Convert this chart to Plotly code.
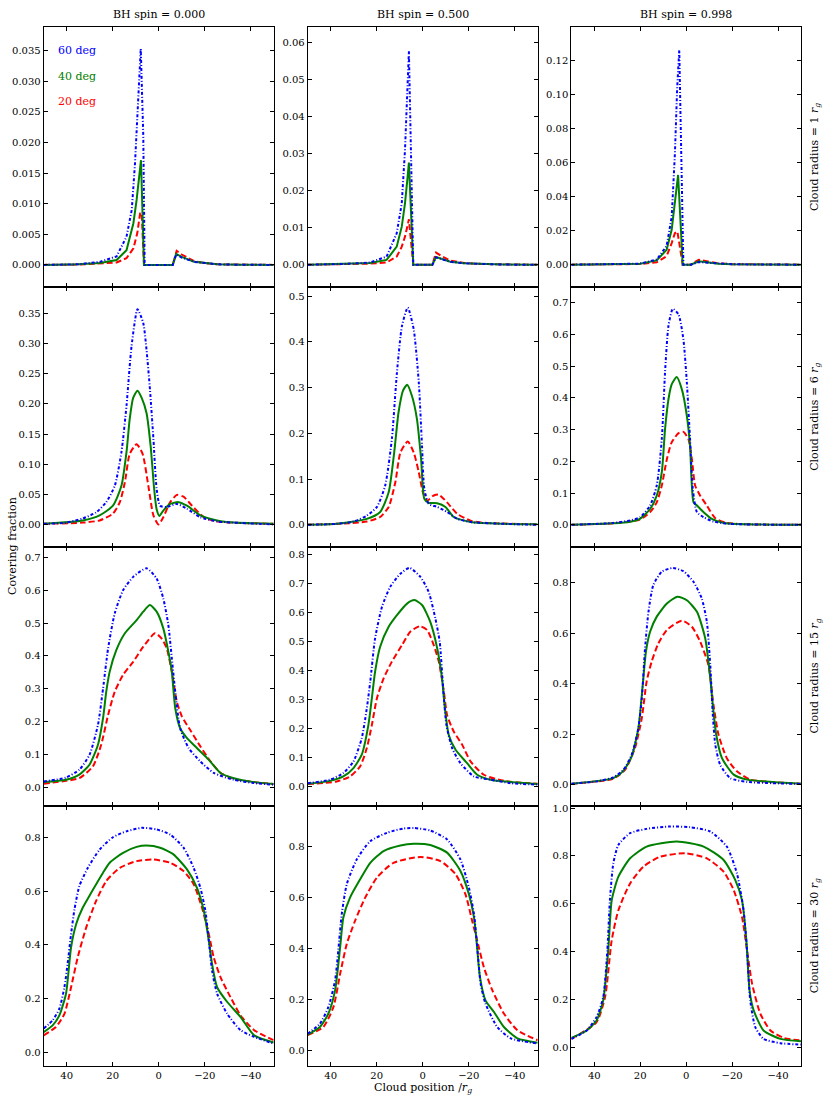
import plotly.graph_objects as go

# ---------------- labels ----------------
spin_labels = ["BH spin = 0.000", "BH spin = 0.500", "BH spin = 0.998"]
radius_labels = ["1", "6", "15", "30"]
angle_labels = ["60 deg", "40 deg", "20 deg"]
x_ticks = [40, 20, 0, -20, -40]
x_title = "Cloud position /<i>r</i><sub><i>g</i></sub>"
y_title = "Covering fraction"

# ---------------- data: row = cloud radius, col = BH spin ----------------
# Row 1 (radius 1)
x_r1c1_60 = [50, 35, 25.6, 18.3, 14.0, 11.7, 10.3, 8.8, 7.8, 6.7, 6.1, 0, -6.1, -7.6, -10, -15.4, -20, -25.5, -35, -50]
y_r1c1_60 = [0, 0.0001, 0.0005, 0.0014, 0.0046, 0.009, 0.0166, 0.0285, 0.0353, 0.021, 0, 0, 0, 0.0017, 0.0012, 0.0005, 0.0003, 0.0001, 0.00003, 0]
x_r1c1_40 = [50, 35, 25.6, 18.3, 14.0, 11.0, 9.6, 8.4, 7.7, 6.4, 0, -6.1, -7.6, -10, -15.4, -20, -25.5, -35, -50]
y_r1c1_40 = [0, 0.0001, 0.0003, 0.0008, 0.0024, 0.0068, 0.0106, 0.0155, 0.0171, 0, 0, 0, 0.0018, 0.0013, 0.0005, 0.0003, 0.0001, 0.00003, 0]
x_r1c1_20 = [50, 35, 18.3, 14.0, 11.0, 9.3, 8.1, 7.4, 6.4, 0, -6.1, -7.8, -10, -15.4, -20, -25.5, -35, -50]
y_r1c1_20 = [0, 0.00005, 0.0004, 0.0011, 0.0027, 0.0052, 0.0084, 0.0085, 0, 0, 0, 0.0023, 0.0017, 0.0006, 0.0003, 0.0001, 0.00003, 0]

x_r1c2_60 = [50, 35, 22.9, 15.7, 11.3, 9.1, 7.7, 6.7, 6.0, 4.1, 0, -4.2, -5.8, -8, -12, -18, -25, -35, -50]
y_r1c2_60 = [0, 0.0002, 0.0006, 0.0022, 0.0085, 0.0166, 0.031, 0.047, 0.0577, 0, 0, 0, 0.002, 0.0015, 0.0008, 0.0004, 0.0002, 0.00005, 0]
x_r1c2_40 = [50, 35, 22.9, 15.7, 11.3, 9.1, 7.7, 6.7, 6.0, 4.1, 0, -4.2, -5.8, -8, -12, -18, -25, -35, -50]
y_r1c2_40 = [0, 0.0002, 0.0005, 0.0013, 0.0049, 0.0103, 0.0166, 0.0229, 0.0276, 0, 0, 0, 0.0021, 0.0016, 0.0008, 0.0004, 0.0002, 0.00005, 0]
x_r1c2_20 = [50, 35, 22.9, 15.7, 11.3, 9.1, 7.7, 6.7, 6.0, 4.1, 0, -4.2, -5.8, -8, -12, -18, -25, -35, -50]
y_r1c2_20 = [0, 0.0001, 0.0003, 0.0006, 0.0022, 0.0049, 0.0076, 0.0103, 0.0123, 0, 0, 0, 0.0033, 0.0024, 0.0011, 0.0005, 0.0002, 0.00005, 0]

x_r1c3_60 = [50, 30, 20.1, 12.8, 8.5, 6.3, 4.9, 3.9, 3.0, 1.2, -2.0, -5.5, -9, -14, -20, -30, -50]
y_r1c3_60 = [0, 0.0002, 0.0006, 0.003, 0.011, 0.028, 0.065, 0.104, 0.126, 0, 0, 0.0015, 0.0012, 0.0006, 0.0003, 0.0001, 0]
x_r1c3_40 = [50, 30, 20.1, 12.8, 8.5, 6.3, 4.9, 3.5, 1.5, -2.0, -5.5, -9, -14, -20, -30, -50]
y_r1c3_40 = [0, 0.0002, 0.0005, 0.0025, 0.0088, 0.0205, 0.036, 0.0527, 0, 0, 0.002, 0.0014, 0.0006, 0.0003, 0.0001, 0]
x_r1c3_20 = [50, 30, 20.1, 12.8, 8.5, 6.3, 4.9, 3.8, 1.5, -2.0, -5.5, -9, -14, -20, -30, -50]
y_r1c3_20 = [0, 0.0001, 0.0004, 0.0014, 0.005, 0.0127, 0.0185, 0.0195, 0, 0, 0.0029, 0.002, 0.0008, 0.0003, 0.0001, 0]

# Row 2 (radius 6)
x_r2c1_60 = [50, 40.3, 33.0, 27.2, 22.8, 19.1, 16.2, 14.0, 11.8, 9.2, 6.7, 5.3, 3.8, 2.3, 0.9, -0.6, -3.5, -7.9, -12.3, -18.1, -25.4, -32.7, -50]
y_r2c1_60 = [0.001, 0.003, 0.010, 0.020, 0.037, 0.064, 0.12, 0.197, 0.296, 0.357, 0.334, 0.29, 0.224, 0.142, 0.059, 0.031, 0.029, 0.034, 0.026, 0.012, 0.005, 0.003, 0.0]
x_r2c1_40 = [50, 33.0, 25.7, 19.9, 16.2, 14.0, 12.6, 11.1, 9.2, 7.4, 5.3, 3.5, 2.0, 0.9, -0.3, -2.0, -5.0, -8.6, -12.3, -18.1, -25.4, -32.7, -50]
y_r2c1_40 = [0.001, 0.0066, 0.015, 0.031, 0.064, 0.12, 0.175, 0.21, 0.222, 0.21, 0.185, 0.13, 0.06, 0.025, 0.014, 0.023, 0.034, 0.037, 0.031, 0.015, 0.0066, 0.003, 0.001]
x_r2c1_20 = [50, 33.0, 25.7, 19.9, 16.9, 14.7, 12.6, 9.6, 7.0, 4.5, 2.3, 0.1, -2.0, -5.0, -7.9, -10.8, -14.5, -19.6, -25.4, -50]
y_r2c1_20 = [0.001, 0.003, 0.0066, 0.018, 0.037, 0.07, 0.117, 0.133, 0.117, 0.064, 0.015, 0.0, 0.012, 0.037, 0.049, 0.046, 0.031, 0.012, 0.005, 0.001]

x_r2c2_60 = [50, 37.4, 30.1, 24.3, 19.9, 16.3, 13.4, 11.2, 9.0, 6.5, 3.9, 1.7, 0.3, -0.7, -2.6, -6.3, -10.6, -15.0, -20.8, -35.3, -50]
y_r2c2_60 = [0.0, 0.002, 0.007, 0.020, 0.039, 0.086, 0.188, 0.333, 0.435, 0.475, 0.427, 0.311, 0.173, 0.079, 0.046, 0.039, 0.028, 0.013, 0.006, 0.002, 0.0]
x_r2c2_40 = [50, 37.4, 24.3, 18.5, 14.8, 12.4, 10.5, 8.6, 6.8, 4.7, 2.5, 0.7, -0.7, -2.6, -6.3, -9.9, -13.5, -20.8, -35, -50]
y_r2c2_40 = [0.0, 0.002, 0.013, 0.028, 0.071, 0.158, 0.246, 0.293, 0.306, 0.282, 0.231, 0.144, 0.057, 0.048, 0.047, 0.039, 0.017, 0.006, 0.002, 0.001]
x_r2c2_20 = [50, 37.4, 24.3, 18.5, 14.8, 11.9, 9.7, 6.5, 3.9, 1.7, -0.1, -1.9, -4.8, -7.0, -10.6, -15.0, -20.8, -28.1, -50]
y_r2c2_20 = [0.0, 0.002, 0.007, 0.017, 0.039, 0.093, 0.158, 0.182, 0.158, 0.115, 0.071, 0.053, 0.064, 0.066, 0.049, 0.024, 0.009, 0.004, 0.001]

x_r2c3_60 = [50, 31.7, 24.4, 20.1, 15.7, 12.8, 10.6, 9.2, 7.7, 5.8, 3.3, 1.2, -0.3, -1.7, -2.9, -4.7, -7.6, -11.9, -19.2, -50]
y_r2c3_60 = [0.0, 0.006, 0.014, 0.024, 0.061, 0.124, 0.27, 0.48, 0.627, 0.681, 0.663, 0.585, 0.449, 0.27, 0.113, 0.04, 0.024, 0.0105, 0.003, 0.0]
x_r2c3_40 = [50, 31.7, 24.4, 20.1, 15.7, 12.8, 10.6, 9.2, 7.7, 6.3, 4.1, 1.9, -0.3, -1.7, -3.2, -4.7, -7.6, -11.2, -16.3, -50]
y_r2c3_40 = [0.0, 0.005, 0.010, 0.019, 0.050, 0.092, 0.166, 0.30, 0.396, 0.443, 0.466, 0.428, 0.344, 0.249, 0.071, 0.061, 0.04, 0.019, 0.006, 0.0]
x_r2c3_20 = [50, 31.7, 20.1, 15.7, 12.8, 10.6, 8.4, 6.3, 3.3, 1.2, -1.0, -2.5, -3.9, -6.1, -9.0, -12.7, -17.7, -50]
y_r2c3_20 = [0.0, 0.005, 0.017, 0.04, 0.071, 0.124, 0.207, 0.26, 0.289, 0.293, 0.27, 0.207, 0.124, 0.092, 0.061, 0.021, 0.006, 0.0]

# Row 3 (radius 15)
x_r3c1_60 = [50, 40.3, 34.5, 30.1, 26.4, 24.2, 22.0, 19.1, 15.5, 11.1, 5.3, 0.9, -2.0, -4.2, -5.7, -7.2, -9.3, -13.0, -18.1, -23.9, -32.7, -41.5, -50]
y_r3c1_60 = [0.017, 0.029, 0.053, 0.098, 0.19, 0.30, 0.423, 0.53, 0.60, 0.641, 0.667, 0.636, 0.575, 0.494, 0.393, 0.291, 0.18, 0.119, 0.078, 0.043, 0.022, 0.012, 0.007]
x_r3c1_40 = [50, 40.3, 34.5, 30.1, 26.4, 24.2, 22.8, 21.3, 18.4, 14.7, 9.6, 6.7, 3.8, 0.9, -2.0, -4.2, -5.7, -7.2, -9.3, -12.3, -16.6, -21.8, -26.9, -32.7, -41.5, -50]
y_r3c1_40 = [0.015, 0.022, 0.038, 0.068, 0.129, 0.21, 0.291, 0.352, 0.418, 0.469, 0.509, 0.535, 0.555, 0.535, 0.484, 0.413, 0.352, 0.24, 0.18, 0.149, 0.119, 0.083, 0.043, 0.027, 0.015, 0.009]
x_r3c1_20 = [50, 40.3, 34.5, 28.6, 25.0, 22.0, 19.1, 15.5, 11.1, 6.7, 1.6, -1.3, -3.5, -5.7, -7.9, -10.1, -13.7, -18.1, -22.5, -26.9, -32.7, -41.5, -50]
y_r3c1_20 = [0.01, 0.019, 0.027, 0.063, 0.129, 0.22, 0.291, 0.342, 0.382, 0.428, 0.469, 0.453, 0.423, 0.352, 0.26, 0.215, 0.174, 0.124, 0.078, 0.043, 0.025, 0.015, 0.009]

x_r3c2_60 = [50, 40.3, 34.5, 30.1, 26.5, 24.3, 22.8, 20.7, 17.7, 14.1, 9.7, 5.7, 1.0, -2.6, -5.5, -7.4, -8.9, -10.3, -12.8, -16.4, -22.3, -29.5, -38.3, -50]
y_r3c2_60 = [0.011, 0.023, 0.046, 0.086, 0.166, 0.269, 0.361, 0.51, 0.619, 0.688, 0.733, 0.753, 0.722, 0.670, 0.579, 0.498, 0.338, 0.212, 0.132, 0.08, 0.034, 0.023, 0.011, 0.006]
x_r3c2_40 = [50, 40.3, 34.5, 30.1, 26.5, 23.6, 22.1, 20.7, 18.5, 14.8, 11.2, 6.8, 3.6, 0.3, -3.3, -6.3, -8.4, -9.5, -11.3, -14.3, -19.3, -23.7, -29.5, -38.3, -50]
y_r3c2_40 = [0.009, 0.019, 0.034, 0.063, 0.109, 0.212, 0.304, 0.395, 0.481, 0.55, 0.59, 0.63, 0.642, 0.625, 0.567, 0.476, 0.372, 0.281, 0.178, 0.126, 0.08, 0.04, 0.023, 0.015, 0.008]
x_r3c2_20 = [50, 37.4, 31.6, 27.2, 24.3, 22.1, 19.9, 17.0, 13.4, 9.0, 5.4, 1.3, -1.9, -4.8, -7.0, -9.2, -10.6, -13.5, -17.2, -20.8, -26.6, -35.3, -50]
y_r3c2_20 = [0.008, 0.017, 0.034, 0.069, 0.132, 0.212, 0.304, 0.372, 0.43, 0.487, 0.533, 0.552, 0.539, 0.487, 0.43, 0.327, 0.246, 0.189, 0.143, 0.086, 0.04, 0.019, 0.009]

x_r3c3_60 = [50, 39.0, 31.7, 27.3, 23.7, 20.8, 19.3, 17.9, 16.4, 14.3, 10.6, 5.8, 1.2, -3.2, -6.8, -9.0, -10.5, -11.6, -12.7, -14.8, -19.2, -26.5, -50]
y_r3c3_60 = [0.004, 0.013, 0.029, 0.059, 0.119, 0.224, 0.343, 0.54, 0.685, 0.791, 0.844, 0.859, 0.846, 0.804, 0.738, 0.646, 0.474, 0.277, 0.158, 0.079, 0.026, 0.011, 0.003]
x_r3c3_40 = [50, 31.7, 27.3, 23.7, 20.8, 18.9, 17.5, 15.7, 12.8, 8.4, 3.8, -0.3, -4.7, -8.3, -10.5, -11.6, -13.1, -15.6, -20.7, -26.5, -50]
y_r3c3_40 = [0.004, 0.026, 0.055, 0.112, 0.224, 0.395, 0.527, 0.606, 0.666, 0.718, 0.745, 0.731, 0.685, 0.58, 0.422, 0.316, 0.198, 0.105, 0.040, 0.02, 0.004]
x_r3c3_20 = [50, 31.7, 26.6, 22.3, 19.3, 17.2, 15.0, 12.1, 8.4, 1.9, -2.5, -6.1, -9.7, -11.9, -14.1, -17.7, -22.1, -27.9, -36.7, -50]
y_r3c3_20 = [0.003, 0.024, 0.059, 0.145, 0.264, 0.409, 0.488, 0.56, 0.613, 0.65, 0.626, 0.567, 0.474, 0.316, 0.198, 0.105, 0.053, 0.02, 0.011, 0.004]

# Row 4 (radius 30)
x_r4c1_60 = [50, 46.1, 43.2, 41.0, 39.6, 38.1, 36.6, 34.5, 30.8, 25.7, 19.9, 14.0, 7.4, 0.9, -5.0, -10.8, -15.2, -18.1, -20.3, -21.8, -23.2, -25.4, -29.8, -35.6, -41.5, -50]
y_r4c1_60 = [0.088, 0.119, 0.162, 0.242, 0.329, 0.44, 0.533, 0.619, 0.687, 0.755, 0.801, 0.823, 0.836, 0.830, 0.811, 0.762, 0.687, 0.613, 0.527, 0.415, 0.304, 0.218, 0.143, 0.082, 0.057, 0.032]
x_r4c1_40 = [50, 46.1, 43.2, 40.3, 38.1, 35.9, 33.0, 29.3, 24.2, 21.3, 15.5, 9.6, 5.3, -0.6, -6.4, -12.3, -16.6, -19.6, -21.8, -23.2, -25.4, -29.8, -35.6, -41.5, -50]
y_r4c1_40 = [0.075, 0.100, 0.137, 0.218, 0.391, 0.477, 0.539, 0.595, 0.669, 0.706, 0.743, 0.765, 0.770, 0.762, 0.737, 0.681, 0.613, 0.527, 0.415, 0.329, 0.242, 0.187, 0.131, 0.063, 0.036]
x_r4c1_20 = [50, 44.7, 41.0, 38.1, 35.2, 31.5, 27.2, 22.8, 16.9, 9.6, 2.3, -5.0, -10.8, -15.2, -18.8, -21.8, -23.9, -26.9, -31.2, -35.6, -41.5, -50]
y_r4c1_20 = [0.063, 0.094, 0.143, 0.242, 0.354, 0.465, 0.564, 0.638, 0.687, 0.712, 0.718, 0.706, 0.675, 0.626, 0.539, 0.44, 0.354, 0.279, 0.205, 0.137, 0.082, 0.045]

x_r4c2_60 = [50, 44.7, 41.0, 38.1, 36.7, 35.2, 33.0, 28.7, 22.8, 15.6, 8.3, 3.9, -3.3, -10.6, -16.4, -20.1, -22.3, -23.7, -25.2, -27.3, -32.4, -38.3, -50]
y_r4c2_60 = [0.065, 0.104, 0.17, 0.274, 0.392, 0.535, 0.653, 0.75, 0.822, 0.855, 0.872, 0.874, 0.864, 0.829, 0.75, 0.639, 0.535, 0.405, 0.261, 0.183, 0.091, 0.046, 0.026]
x_r4c2_40 = [50, 44.7, 41.0, 38.1, 35.9, 34.5, 31.6, 27.2, 22.8, 17.0, 9.7, 3.9, -3.3, -10.6, -16.4, -20.1, -22.3, -23.4, -24.9, -27.3, -31.0, -35.3, -41.2, -50]
y_r4c2_40 = [0.061, 0.091, 0.144, 0.235, 0.405, 0.522, 0.60, 0.672, 0.737, 0.783, 0.805, 0.812, 0.807, 0.777, 0.705, 0.613, 0.522, 0.431, 0.287, 0.196, 0.15, 0.091, 0.046, 0.029]
x_r4c2_20 = [50, 43.2, 38.8, 35.9, 33.0, 29.4, 25.0, 19.9, 12.7, 1.0, -7.7, -14.3, -18.6, -21.5, -23.7, -26.6, -30.3, -35.3, -41.2, -50]
y_r4c2_20 = [0.059, 0.091, 0.17, 0.30, 0.418, 0.509, 0.60, 0.679, 0.737, 0.76, 0.744, 0.692, 0.613, 0.509, 0.431, 0.326, 0.235, 0.144, 0.078, 0.039]

x_r4c3_60 = [50, 43.3, 39.0, 36.1, 34.3, 33.2, 31.7, 29.5, 24.4, 17.2, 7.0, -1.7, -10.5, -17.7, -22.1, -25.0, -26.5, -27.9, -30.1, -33.7, -41.0, -50]
y_r4c3_60 = [0.035, 0.07, 0.126, 0.21, 0.406, 0.615, 0.769, 0.846, 0.895, 0.913, 0.923, 0.92, 0.902, 0.839, 0.727, 0.573, 0.406, 0.196, 0.084, 0.035, 0.017, 0.011]
x_r4c3_40 = [50, 43.3, 39.0, 36.1, 33.9, 32.4, 29.5, 24.4, 17.2, 4.1, -7.6, -16.3, -21.4, -24.3, -26.2, -27.6, -29.4, -33.7, -41.0, -50]
y_r4c3_40 = [0.039, 0.07, 0.112, 0.196, 0.406, 0.615, 0.713, 0.79, 0.839, 0.86, 0.839, 0.783, 0.699, 0.615, 0.448, 0.238, 0.154, 0.07, 0.035, 0.025]
x_r4c3_20 = [50, 39.0, 35.3, 32.4, 29.5, 24.4, 18.6, 11.3, 0.4, -9.0, -16.3, -20.7, -24.3, -26.5, -28.7, -32.3, -36.7, -42.5, -50]
y_r4c3_20 = [0.035, 0.105, 0.21, 0.448, 0.573, 0.685, 0.755, 0.797, 0.811, 0.79, 0.734, 0.657, 0.545, 0.406, 0.266, 0.14, 0.07, 0.039, 0.028]

panels = {
    (1, 1): {"60": (x_r1c1_60, y_r1c1_60), "40": (x_r1c1_40, y_r1c1_40), "20": (x_r1c1_20, y_r1c1_20)},
    (1, 2): {"60": (x_r1c2_60, y_r1c2_60), "40": (x_r1c2_40, y_r1c2_40), "20": (x_r1c2_20, y_r1c2_20)},
    (1, 3): {"60": (x_r1c3_60, y_r1c3_60), "40": (x_r1c3_40, y_r1c3_40), "20": (x_r1c3_20, y_r1c3_20)},
    (2, 1): {"60": (x_r2c1_60, y_r2c1_60), "40": (x_r2c1_40, y_r2c1_40), "20": (x_r2c1_20, y_r2c1_20)},
    (2, 2): {"60": (x_r2c2_60, y_r2c2_60), "40": (x_r2c2_40, y_r2c2_40), "20": (x_r2c2_20, y_r2c2_20)},
    (2, 3): {"60": (x_r2c3_60, y_r2c3_60), "40": (x_r2c3_40, y_r2c3_40), "20": (x_r2c3_20, y_r2c3_20)},
    (3, 1): {"60": (x_r3c1_60, y_r3c1_60), "40": (x_r3c1_40, y_r3c1_40), "20": (x_r3c1_20, y_r3c1_20)},
    (3, 2): {"60": (x_r3c2_60, y_r3c2_60), "40": (x_r3c2_40, y_r3c2_40), "20": (x_r3c2_20, y_r3c2_20)},
    (3, 3): {"60": (x_r3c3_60, y_r3c3_60), "40": (x_r3c3_40, y_r3c3_40), "20": (x_r3c3_20, y_r3c3_20)},
    (4, 1): {"60": (x_r4c1_60, y_r4c1_60), "40": (x_r4c1_40, y_r4c1_40), "20": (x_r4c1_20, y_r4c1_20)},
    (4, 2): {"60": (x_r4c2_60, y_r4c2_60), "40": (x_r4c2_40, y_r4c2_40), "20": (x_r4c2_20, y_r4c2_20)},
    (4, 3): {"60": (x_r4c3_60, y_r4c3_60), "40": (x_r4c3_40, y_r4c3_40), "20": (x_r4c3_20, y_r4c3_20)},
}

# ---------------- styling / layout ----------------
W, H = 830, 1104
FONT = "DejaVu Serif"
colors = {"60": "#0000ff", "40": "#008000", "20": "#ff0000"}
dashes = {"60": "3px,2px,1px,2px", "40": "solid", "20": "6px,3px"}
draw_order = ["20", "40", "60"]

col_px = [(43.7, 273.7), (307.7, 537.7), (571.3, 801.0)]
row_px = [(23.3, 284.0), (284.0, 544.7), (544.7, 805.3), (805.3, 1066.0)]

y_ranges = {
    (1, 1): [-0.0036, 0.0388], (1, 2): [-0.006, 0.0642], (1, 3): [-0.0131, 0.1395],
    (2, 1): [-0.037, 0.394], (2, 2): [-0.048, 0.520], (2, 3): [-0.069, 0.750],
    (3, 1): [-0.059, 0.733], (3, 2): [-0.069, 0.826], (3, 3): [-0.086, 0.943],
    (4, 1): [-0.052, 0.916], (4, 2): [-0.063, 0.959], (4, 3): [-0.079, 1.007],
}
y_dticks = {
    (1, 1): (0.005, ".3f"), (1, 2): (0.01, ".2f"), (1, 3): (0.02, ".2f"),
    (2, 1): (0.05, ".2f"), (2, 2): (0.1, ".1f"), (2, 3): (0.1, ".1f"),
    (3, 1): (0.1, ".1f"), (3, 2): (0.1, ".1f"), (3, 3): (0.2, ".1f"),
    (4, 1): (0.2, ".1f"), (4, 2): (0.2, ".1f"), (4, 3): (0.2, ".1f"),
}

fig = go.Figure()
layout = {}
idx = 0
for r in range(1, 5):
    for c in range(1, 4):
        idx += 1
        sfx = "" if idx == 1 else str(idx)
        xa, ya = "x" + sfx, "y" + sfx
        shape = "linear" if r == 1 else "spline"
        for a in draw_order:
            xs, ys = panels[(r, c)][a]
            line = dict(color=colors[a], width=2, dash=dashes[a])
            if shape == "spline":
                line["shape"] = "spline"
                line["smoothing"] = 0.6
            fig.add_trace(go.Scatter(x=xs, y=ys, mode="lines", line=line,
                                     xaxis=xa, yaxis=ya, showlegend=False,
                                     hoverinfo="skip"))
        x0, x1 = col_px[c - 1]
        t0, t1 = row_px[r - 1]
        common = dict(showline=True, mirror="ticks", linecolor="black", linewidth=1,
                      ticks="inside", ticklen=4, tickwidth=1, tickcolor="black",
                      showgrid=False, zeroline=False,
                      tickfont=dict(family=FONT, size=10, color="black"))
        layout["xaxis" + sfx] = dict(common, domain=[x0 / W, x1 / W], anchor=ya,
                                     range=[50, -50], tickmode="array", tickvals=x_ticks,
                                     showticklabels=(r == 4))
        dt, fmt = y_dticks[(r, c)]
        layout["yaxis" + sfx] = dict(common, domain=[1 - t1 / H, 1 - t0 / H], anchor=xa,
                                     range=y_ranges[(r, c)], tick0=0, dtick=dt,
                                     tickformat=fmt)

TXT = 11
annotations = []
for c in range(3):
    x0, x1 = col_px[c]
    annotations.append(dict(text=spin_labels[c], x=(x0 + x1) / 2 / W, y=1 - 11 / H,
                            xref="paper", yref="paper", showarrow=False,
                            xanchor="center", yanchor="middle",
                            font=dict(family=FONT, size=TXT, color="black")))
for r in range(4):
    t0, t1 = row_px[r]
    annotations.append(dict(text="Cloud radius = " + radius_labels[r] + " <i>r</i><sub><i>g</i></sub>",
                            x=815 / W, y=1 - (t0 + t1) / 2 / H, textangle=-90,
                            xref="paper", yref="paper", showarrow=False,
                            xanchor="center", yanchor="middle",
                            font=dict(family=FONT, size=TXT, color="black")))
annotations.append(dict(text=y_title, x=12 / W, y=1 - 544 / H, textangle=-90,
                        xref="paper", yref="paper", showarrow=False,
                        xanchor="center", yanchor="middle",
                        font=dict(family=FONT, size=TXT, color="black")))
annotations.append(dict(text=x_title, x=(col_px[1][0] + col_px[1][1]) / 2 / W, y=1 - 1088 / H,
                        xref="paper", yref="paper", showarrow=False,
                        xanchor="center", yanchor="middle",
                        font=dict(family=FONT, size=TXT, color="black")))
legend_y = [46.7, 72.3, 98.3]
for i, a in enumerate(["60", "40", "20"]):
    annotations.append(dict(text=angle_labels[i], x=56 / W, y=1 - legend_y[i] / H,
                            xref="paper", yref="paper", showarrow=False,
                            xanchor="left", yanchor="middle",
                            font=dict(family=FONT, size=TXT, color=colors[a])))

fig.update_layout(width=W, height=H, margin=dict(l=0, r=0, t=0, b=0),
                  paper_bgcolor="white", plot_bgcolor="white",
                  annotations=annotations, **layout)
fig.write_html("out.html", config={"displayModeBar": False, "staticPlot": True},
               post_script="document.body.style.margin='0px';document.body.style.overflow='hidden';")
